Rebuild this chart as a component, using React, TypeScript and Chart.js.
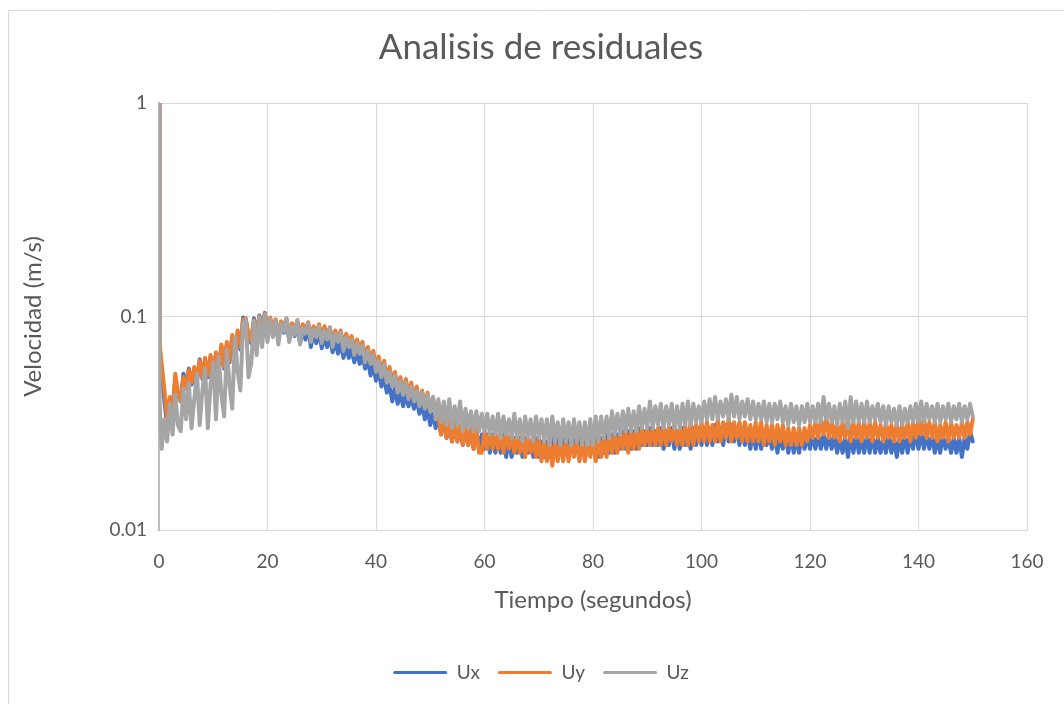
import React, { useEffect, useRef } from "react";
import { Chart, registerables } from "chart.js";

Chart.register(...registerables);

const TITLE = "Analisis de residuales";
const X_TITLE = "Tiempo (segundos)";
const Y_TITLE = "Velocidad (m/s)";
const SERIES_NAMES = ["Ux", "Uy", "Uz"];
const SERIES_COLORS = ["#4472C4", "#ED7D31", "#A5A5A5"];
const Y_TICKS = [0.01, 0.1, 1];
const Y_TICK_LABELS = ["0.01", "0.1", "1"];
const X_MIN = 0;
const X_MAX = 160;
const X_STEP = 20;

// sampling times (s): 0, 0.1, then every 0.5 s up to 150 s
const TIME_HEAD = [0, 0.1];
const TIME_STEP = 0.5;
const TIME_COUNT = 300;

const UX = [
  1, 0.070,
  0.055, 0.040, 0.031, 0.040, 0.035, 0.050, 0.043, 0.040, 0.054, 0.046, 0.057, 0.048, 0.056, 0.050, 0.063, 0.051, 0.062, 0.052, 0.065, 0.054,
  0.066, 0.055, 0.072, 0.057, 0.074, 0.061, 0.080, 0.064, 0.084, 0.070, 0.099, 0.096, 0.080, 0.075, 0.098, 0.081, 0.101, 0.084, 0.104, 0.086,
  0.097, 0.083, 0.095, 0.079, 0.093, 0.084, 0.095, 0.078, 0.090, 0.081, 0.092, 0.075, 0.087, 0.078, 0.089, 0.072, 0.085, 0.075, 0.086, 0.071,
  0.082, 0.072, 0.080, 0.068, 0.077, 0.067, 0.076, 0.064, 0.073, 0.064, 0.071, 0.061, 0.069, 0.060, 0.066, 0.057, 0.063, 0.053, 0.059, 0.050,
  0.056, 0.047, 0.052, 0.044, 0.048, 0.040, 0.046, 0.039, 0.044, 0.038, 0.043, 0.038, 0.042, 0.037, 0.041, 0.035, 0.039, 0.033, 0.037, 0.031,
  0.035, 0.030, 0.034, 0.028, 0.033, 0.027, 0.032, 0.026, 0.031, 0.026, 0.030, 0.025, 0.030, 0.025, 0.029, 0.024, 0.029, 0.024, 0.028, 0.024,
  0.028, 0.023, 0.028, 0.023, 0.027, 0.023, 0.028, 0.022, 0.027, 0.022, 0.027, 0.023, 0.027, 0.022, 0.027, 0.023, 0.026, 0.022, 0.027, 0.022,
  0.026, 0.022, 0.026, 0.022, 0.027, 0.023, 0.027, 0.023, 0.028, 0.024, 0.029, 0.024, 0.029, 0.024, 0.029, 0.023, 0.028, 0.023, 0.027, 0.023,
  0.027, 0.022, 0.027, 0.023, 0.028, 0.023, 0.028, 0.023, 0.028, 0.024, 0.029, 0.024, 0.029, 0.024, 0.029, 0.024, 0.030, 0.025, 0.029, 0.025,
  0.030, 0.025, 0.029, 0.025, 0.030, 0.024, 0.029, 0.025, 0.030, 0.024, 0.029, 0.024, 0.030, 0.025, 0.029, 0.024, 0.030, 0.025, 0.030, 0.025,
  0.030, 0.025, 0.030, 0.025, 0.031, 0.026, 0.030, 0.025, 0.031, 0.026, 0.031, 0.026, 0.030, 0.025, 0.030, 0.025, 0.029, 0.024, 0.029, 0.024,
  0.029, 0.024, 0.029, 0.025, 0.028, 0.024, 0.028, 0.023, 0.028, 0.024, 0.028, 0.023, 0.028, 0.023, 0.027, 0.023, 0.028, 0.024, 0.028, 0.024,
  0.028, 0.024, 0.028, 0.024, 0.028, 0.024, 0.028, 0.024, 0.028, 0.023, 0.027, 0.023, 0.027, 0.022, 0.028, 0.023, 0.028, 0.023, 0.027, 0.023,
  0.028, 0.023, 0.028, 0.023, 0.027, 0.023, 0.027, 0.023, 0.028, 0.023, 0.027, 0.022, 0.027, 0.023, 0.028, 0.023, 0.028, 0.024, 0.029, 0.024,
  0.029, 0.024, 0.028, 0.024, 0.028, 0.023, 0.027, 0.023, 0.028, 0.024, 0.027, 0.023, 0.027, 0.023, 0.027, 0.022, 0.027, 0.024, 0.029, 0.026,
];

const UY = [
  1, 0.075,
  0.060, 0.045, 0.033, 0.042, 0.036, 0.054, 0.044, 0.040, 0.052, 0.046, 0.056, 0.049, 0.058, 0.051, 0.062, 0.052, 0.064, 0.053, 0.066, 0.055,
  0.068, 0.056, 0.074, 0.058, 0.076, 0.062, 0.082, 0.066, 0.086, 0.072, 0.097, 0.098, 0.082, 0.077, 0.096, 0.083, 0.100, 0.086, 0.103, 0.088,
  0.099, 0.086, 0.097, 0.082, 0.095, 0.088, 0.098, 0.082, 0.093, 0.086, 0.096, 0.081, 0.092, 0.086, 0.094, 0.080, 0.090, 0.084, 0.092, 0.079,
  0.090, 0.081, 0.089, 0.077, 0.086, 0.079, 0.086, 0.073, 0.083, 0.075, 0.081, 0.070, 0.078, 0.070, 0.076, 0.064, 0.072, 0.062, 0.069, 0.058,
  0.065, 0.055, 0.062, 0.051, 0.058, 0.049, 0.055, 0.046, 0.052, 0.044, 0.051, 0.043, 0.049, 0.041, 0.047, 0.039, 0.045, 0.038, 0.044, 0.036,
  0.042, 0.035, 0.034, 0.028, 0.034, 0.027, 0.033, 0.026, 0.032, 0.026, 0.031, 0.025, 0.031, 0.025, 0.030, 0.024, 0.030, 0.023, 0.023, 0.029,
  0.024, 0.029, 0.024, 0.029, 0.024, 0.029, 0.023, 0.029, 0.024, 0.028, 0.023, 0.028, 0.023, 0.028, 0.022, 0.028, 0.023, 0.027, 0.022, 0.027,
  0.021, 0.026, 0.021, 0.026, 0.020, 0.026, 0.021, 0.026, 0.021, 0.026, 0.021, 0.026, 0.022, 0.026, 0.021, 0.026, 0.021, 0.026, 0.022, 0.027,
  0.021, 0.027, 0.022, 0.027, 0.022, 0.028, 0.023, 0.028, 0.023, 0.029, 0.024, 0.029, 0.023, 0.029, 0.024, 0.030, 0.024, 0.030, 0.025, 0.030,
  0.025, 0.030, 0.025, 0.030, 0.025, 0.031, 0.025, 0.030, 0.026, 0.031, 0.025, 0.030, 0.025, 0.031, 0.025, 0.032, 0.025, 0.031, 0.026, 0.032,
  0.026, 0.032, 0.026, 0.031, 0.026, 0.033, 0.026, 0.032, 0.027, 0.033, 0.026, 0.032, 0.027, 0.032, 0.026, 0.032, 0.026, 0.031, 0.026, 0.032,
  0.026, 0.032, 0.025, 0.031, 0.026, 0.031, 0.025, 0.031, 0.026, 0.031, 0.025, 0.030, 0.025, 0.030, 0.025, 0.030, 0.025, 0.030, 0.026, 0.031,
  0.027, 0.032, 0.027, 0.033, 0.028, 0.034, 0.027, 0.032, 0.027, 0.032, 0.026, 0.032, 0.027, 0.033, 0.026, 0.032, 0.027, 0.032, 0.026, 0.032,
  0.027, 0.032, 0.026, 0.032, 0.027, 0.031, 0.026, 0.032, 0.027, 0.031, 0.026, 0.032, 0.026, 0.031, 0.027, 0.032, 0.026, 0.032, 0.027, 0.033,
  0.028, 0.034, 0.027, 0.032, 0.027, 0.032, 0.026, 0.031, 0.027, 0.032, 0.026, 0.032, 0.027, 0.031, 0.027, 0.032, 0.027, 0.032, 0.028, 0.033,
];

const UZ = [
  1, 0.040,
  0.024, 0.033, 0.026, 0.039, 0.028, 0.043, 0.031, 0.029, 0.046, 0.033, 0.049, 0.030, 0.041, 0.054, 0.031, 0.045, 0.057, 0.030, 0.048, 0.061,
  0.033, 0.065, 0.043, 0.034, 0.070, 0.048, 0.037, 0.080, 0.055, 0.045, 0.092, 0.097, 0.052, 0.060, 0.095, 0.066, 0.099, 0.072, 0.102, 0.076,
  0.097, 0.080, 0.095, 0.074, 0.093, 0.085, 0.098, 0.076, 0.090, 0.082, 0.096, 0.074, 0.088, 0.083, 0.093, 0.076, 0.087, 0.080, 0.090, 0.075,
  0.086, 0.078, 0.088, 0.072, 0.083, 0.076, 0.084, 0.069, 0.080, 0.072, 0.078, 0.066, 0.075, 0.067, 0.073, 0.061, 0.069, 0.060, 0.066, 0.055,
  0.062, 0.052, 0.060, 0.049, 0.055, 0.047, 0.053, 0.044, 0.050, 0.043, 0.049, 0.041, 0.047, 0.040, 0.045, 0.038, 0.044, 0.037, 0.043, 0.036,
  0.042, 0.033, 0.041, 0.032, 0.040, 0.031, 0.041, 0.030, 0.038, 0.031, 0.040, 0.029, 0.037, 0.030, 0.036, 0.029, 0.036, 0.029, 0.035, 0.029,
  0.035, 0.028, 0.034, 0.028, 0.035, 0.027, 0.034, 0.028, 0.033, 0.027, 0.035, 0.027, 0.033, 0.026, 0.034, 0.027, 0.033, 0.026, 0.034, 0.027,
  0.033, 0.026, 0.033, 0.025, 0.034, 0.026, 0.032, 0.025, 0.033, 0.026, 0.032, 0.025, 0.033, 0.026, 0.032, 0.025, 0.032, 0.025, 0.033, 0.025,
  0.034, 0.026, 0.034, 0.027, 0.034, 0.027, 0.036, 0.028, 0.035, 0.028, 0.036, 0.029, 0.037, 0.029, 0.036, 0.029, 0.038, 0.030, 0.037, 0.030,
  0.040, 0.030, 0.038, 0.031, 0.039, 0.030, 0.038, 0.031, 0.039, 0.030, 0.038, 0.030, 0.039, 0.031, 0.040, 0.031, 0.039, 0.032, 0.038, 0.032,
  0.040, 0.033, 0.041, 0.033, 0.042, 0.033, 0.040, 0.034, 0.041, 0.033, 0.043, 0.034, 0.042, 0.033, 0.040, 0.034, 0.041, 0.033, 0.040, 0.033,
  0.039, 0.033, 0.040, 0.032, 0.039, 0.032, 0.039, 0.033, 0.040, 0.032, 0.038, 0.031, 0.039, 0.032, 0.038, 0.031, 0.038, 0.032, 0.039, 0.032,
  0.038, 0.032, 0.039, 0.032, 0.042, 0.033, 0.039, 0.032, 0.038, 0.031, 0.039, 0.032, 0.040, 0.030, 0.042, 0.032, 0.040, 0.032, 0.039, 0.032,
  0.040, 0.032, 0.038, 0.033, 0.039, 0.032, 0.038, 0.031, 0.038, 0.032, 0.037, 0.031, 0.038, 0.031, 0.037, 0.032, 0.038, 0.032, 0.039, 0.032,
  0.040, 0.032, 0.039, 0.033, 0.038, 0.032, 0.039, 0.032, 0.038, 0.033, 0.039, 0.032, 0.038, 0.033, 0.039, 0.032, 0.038, 0.033, 0.039, 0.034,
];

const SERIES_VALUES = [UX, UY, UZ];

const TEXT_COLOR = "#595959";
const GRID_COLOR = "#d9d9d9";
const FONT = "Lato, 'Open Sans', sans-serif";

const frame = {
  id: "frame",
  beforeDraw(chart: any) {
    const { ctx, width, height } = chart;
    ctx.save();
    ctx.fillStyle = "#ffffff";
    ctx.fillRect(0, 0, width, height);
    ctx.strokeStyle = GRID_COLOR;
    ctx.lineWidth = 1;
    ctx.beginPath();
    ctx.moveTo(8.5, height);
    ctx.lineTo(8.5, 10.5);
    ctx.lineTo(width, 10.5);
    ctx.stroke();
    ctx.restore();
  },
};

export default function App() {
  const ref = useRef<HTMLCanvasElement | null>(null);

  useEffect(() => {
    if (!ref.current) return;
    const times = [...TIME_HEAD, ...Array.from({ length: TIME_COUNT }, (_, i) => (i + 1) * TIME_STEP)];
    const datasets = SERIES_NAMES.map((name, s) => ({
      label: name,
      data: SERIES_VALUES[s].map((v, i) => ({ x: times[i], y: v })),
      borderColor: SERIES_COLORS[s],
      backgroundColor: SERIES_COLORS[s],
      borderWidth: 4,
      pointRadius: 0,
      tension: 0,
      borderJoinStyle: "round" as const,
      borderCapStyle: "round" as const,
      order: SERIES_NAMES.length - s,
      yAxisID: "y",
    }));

    const chart = new Chart(ref.current, {
      type: "line",
      data: { datasets },
      plugins: [frame],
      options: {
        responsive: false,
        animation: false,
        layout: { padding: { left: 18, right: 0, top: 0, bottom: 12 } },
        plugins: {
          tooltip: { enabled: false },
          title: {
            display: true,
            text: TITLE,
            color: TEXT_COLOR,
            font: { family: FONT, size: 35, weight: "normal" },
            padding: { top: 27, bottom: 34 },
          },
          legend: {
            position: "bottom",
            labels: {
              boxWidth: 54,
              boxHeight: 3,
              padding: 18,
              color: TEXT_COLOR,
              font: { family: FONT, size: 19 },
              generateLabels: (c: any) =>
                c.data.datasets.map((ds: any, i: number) => ({
                  text: ds.label,
                  fillStyle: ds.borderColor,
                  strokeStyle: ds.borderColor,
                  lineWidth: 0,
                  hidden: false,
                  datasetIndex: i,
                  fontColor: TEXT_COLOR,
                  borderRadius: 1.5,
                })),
            },
          },
        },
        scales: {
          x: {
            type: "linear",
            min: X_MIN,
            max: X_MAX,
            ticks: { stepSize: X_STEP, color: TEXT_COLOR, padding: 20, font: { family: FONT, size: 19 } },
            grid: { color: GRID_COLOR, drawTicks: false },
            border: { color: GRID_COLOR },
            title: {
              display: true,
              text: X_TITLE,
              color: TEXT_COLOR,
              font: { family: FONT, size: 24 },
              padding: { top: 0, bottom: 30 },
            },
            afterFit: (scale: any) => {
              scale.height = 115;
            },
          },
          y: {
            type: "logarithmic",
            position: "left",
            min: Y_TICKS[0],
            max: Y_TICKS[Y_TICKS.length - 1],
            afterBuildTicks: (scale: any) => {
              scale.ticks = Y_TICKS.map((v) => ({ value: v }));
            },
            ticks: {
              color: TEXT_COLOR,
              padding: 12,
              font: { family: FONT, size: 19 },
              callback: (v: any) => {
                const k = Y_TICKS.indexOf(Number(v));
                return k >= 0 ? Y_TICK_LABELS[k] : "";
              },
            },
            grid: { color: GRID_COLOR, drawTicks: false },
            border: { color: "#bdbdbd", width: 2 },
            title: {
              display: true,
              text: Y_TITLE,
              color: TEXT_COLOR,
              font: { family: FONT, size: 24 },
              padding: { top: 1, bottom: 0 },
            },
            afterFit: (scale: any) => {
              scale.width = 141;
            },
          },
          spacer: {
            type: "linear",
            position: "right",
            display: true,
            min: 0,
            max: 1,
            grid: { display: false, drawTicks: false },
            border: { display: false },
            ticks: { display: false },
            afterFit: (scale: any) => {
              scale.width = 37;
            },
          },
        },
      },
    });
    return () => chart.destroy();
  }, []);

  return (
    <div style={{ position: "fixed", left: 0, top: 0, width: 1064, height: 704, background: "#fff" }}>
      <canvas ref={ref} width={1064} height={704} />
    </div>
  );
}
